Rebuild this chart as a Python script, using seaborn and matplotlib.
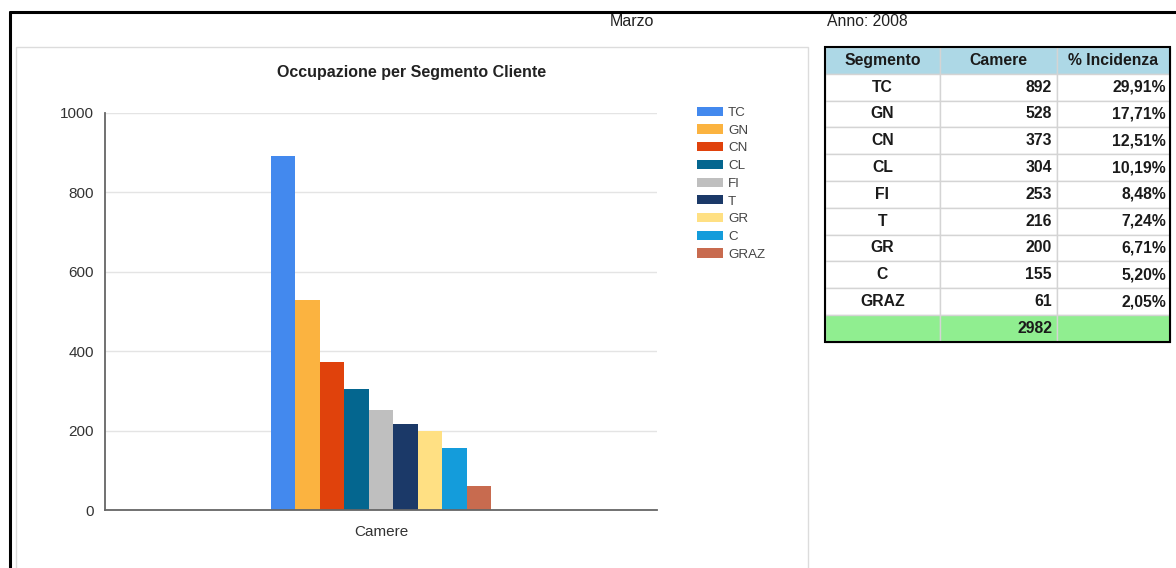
import numpy as np
import pandas as pd
import matplotlib
matplotlib.use('Agg')
import matplotlib.pyplot as plt
import seaborn as sns
from matplotlib.patches import Rectangle

segments = ['TC', 'GN', 'CN', 'CL', 'FI', 'T', 'GR', 'C', 'GRAZ']
camere = [892, 528, 373, 304, 253, 216, 200, 155, 61]
incidenza = ['29,91%', '17,71%', '12,51%', '10,19%', '8,48%', '7,24%', '6,71%', '5,20%', '2,05%']
colors = ['#4389EE', '#FBB340', '#E0420C', '#04668F', '#BFBFBF', '#1B3968',
          '#FFE083', '#149CDB', '#C86B4F']
y_ticks = [0, 200, 400, 600, 800, 1000]

sns.set_theme(style='white')
plt.rcParams['font.family'] = ['Liberation Sans', 'DejaVu Sans']

fig = plt.figure(figsize=(11.76, 5.68), dpi=100)

# page background: frame, header texts, table
bg = fig.add_axes([0, 0, 1, 1])
bg.set_xlim(0, 1176)
bg.set_ylim(568, 0)
bg.axis('off')
bg.plot([10, 1176], [12, 12], color='black', lw=2.2)
bg.plot([10, 10], [12, 568], color='black', lw=2.2)
bg.add_patch(Rectangle((16, 47), 792, 530, fill=False, ec='#dcdcdc', lw=1))
bg.text(610, 21, 'Marzo', fontsize=11.5, va='center', ha='left', color='#222')
bg.text(827, 21, 'Anno: 2008', fontsize=11.3, va='center', ha='left', color='#222')
bg.text(412, 73, 'Occupazione per Segmento Cliente', fontsize=11.5, fontweight='bold',
        ha='center', va='center', color='#222')

col_x = [825, 940, 1057, 1170]
row_h = 26.8
top = 47
n_rows = len(segments) + 2
for r in range(n_rows):
    y0 = top + r * row_h
    fc = '#ADD8E6' if r == 0 else ('#90EE90' if r == n_rows - 1 else 'white')
    for c in range(3):
        bg.add_patch(Rectangle((col_x[c], y0), col_x[c + 1] - col_x[c], row_h,
                               fc=fc, ec='#d4d4d4', lw=1))
bg.add_patch(Rectangle((col_x[0], top), col_x[-1] - col_x[0], n_rows * row_h,
                       fill=False, ec='black', lw=1.5))
tkw = dict(fontsize=11.3, fontweight='bold', va='center', color='#1a1a1a')
for c, h in enumerate(['Segmento', 'Camere', '% Incidenza']):
    bg.text((col_x[c] + col_x[c + 1]) / 2, top + row_h / 2, h, ha='center', **tkw)
for i, (s, v, p) in enumerate(zip(segments, camere, incidenza)):
    yc = top + (i + 1.5) * row_h
    bg.text((col_x[0] + col_x[1]) / 2, yc, s, ha='center', **tkw)
    bg.text(col_x[2] - 5, yc, str(v), ha='right', **tkw)
    bg.text(col_x[3] - 4, yc, p, ha='right', **tkw)
bg.text(col_x[2] - 5, top + (n_rows - 0.5) * row_h, str(sum(camere)), ha='right', **tkw)

# chart
ax = fig.add_axes([105 / 1176, 1 - 510 / 568, 552 / 1176, 397 / 568])
df = pd.DataFrame({'metric': 'Camere', 'Segmento': segments, 'Camere': camere})
sns.barplot(data=df, x='metric', y='Camere', hue='Segmento', hue_order=segments,
            palette=colors, width=0.4, dodge=True, ax=ax, saturation=1,
            edgecolor='none', linewidth=0)
ax.set_xlim(-0.5, 0.5)
ax.set_ylim(0, 1000)
ax.set_yticks(y_ticks)
ax.set_xticks([-0.5, 0, 0.5])
ax.set_xticklabels(['', 'Camere', ''])
ax.set_xlabel('')
ax.set_ylabel('')
ax.yaxis.grid(True, color='#e4e4e4', lw=1)
ax.set_axisbelow(True)
for sp in ['top', 'right']:
    ax.spines[sp].set_visible(False)
for sp in ['left', 'bottom']:
    ax.spines[sp].set_color('#666666')
    ax.spines[sp].set_linewidth(1.3)
ax.tick_params(axis='both', direction='out', length=5, width=1, color='#666666',
               labelsize=11, labelcolor='#333333', pad=3)
ax.tick_params(axis='x', pad=6)

handles, labels = ax.get_legend_handles_labels()
ax.legend(handles, labels, loc='upper left', bbox_to_anchor=(690 / 1176, 1 - 100 / 568),
          bbox_transform=fig.transFigure, frameon=False, fontsize=9.6,
          labelspacing=0.41, handlelength=2.0, handleheight=0.68, handletextpad=0.35,
          labelcolor='#444444', borderpad=0)

fig.savefig('out.png', dpi=100)
